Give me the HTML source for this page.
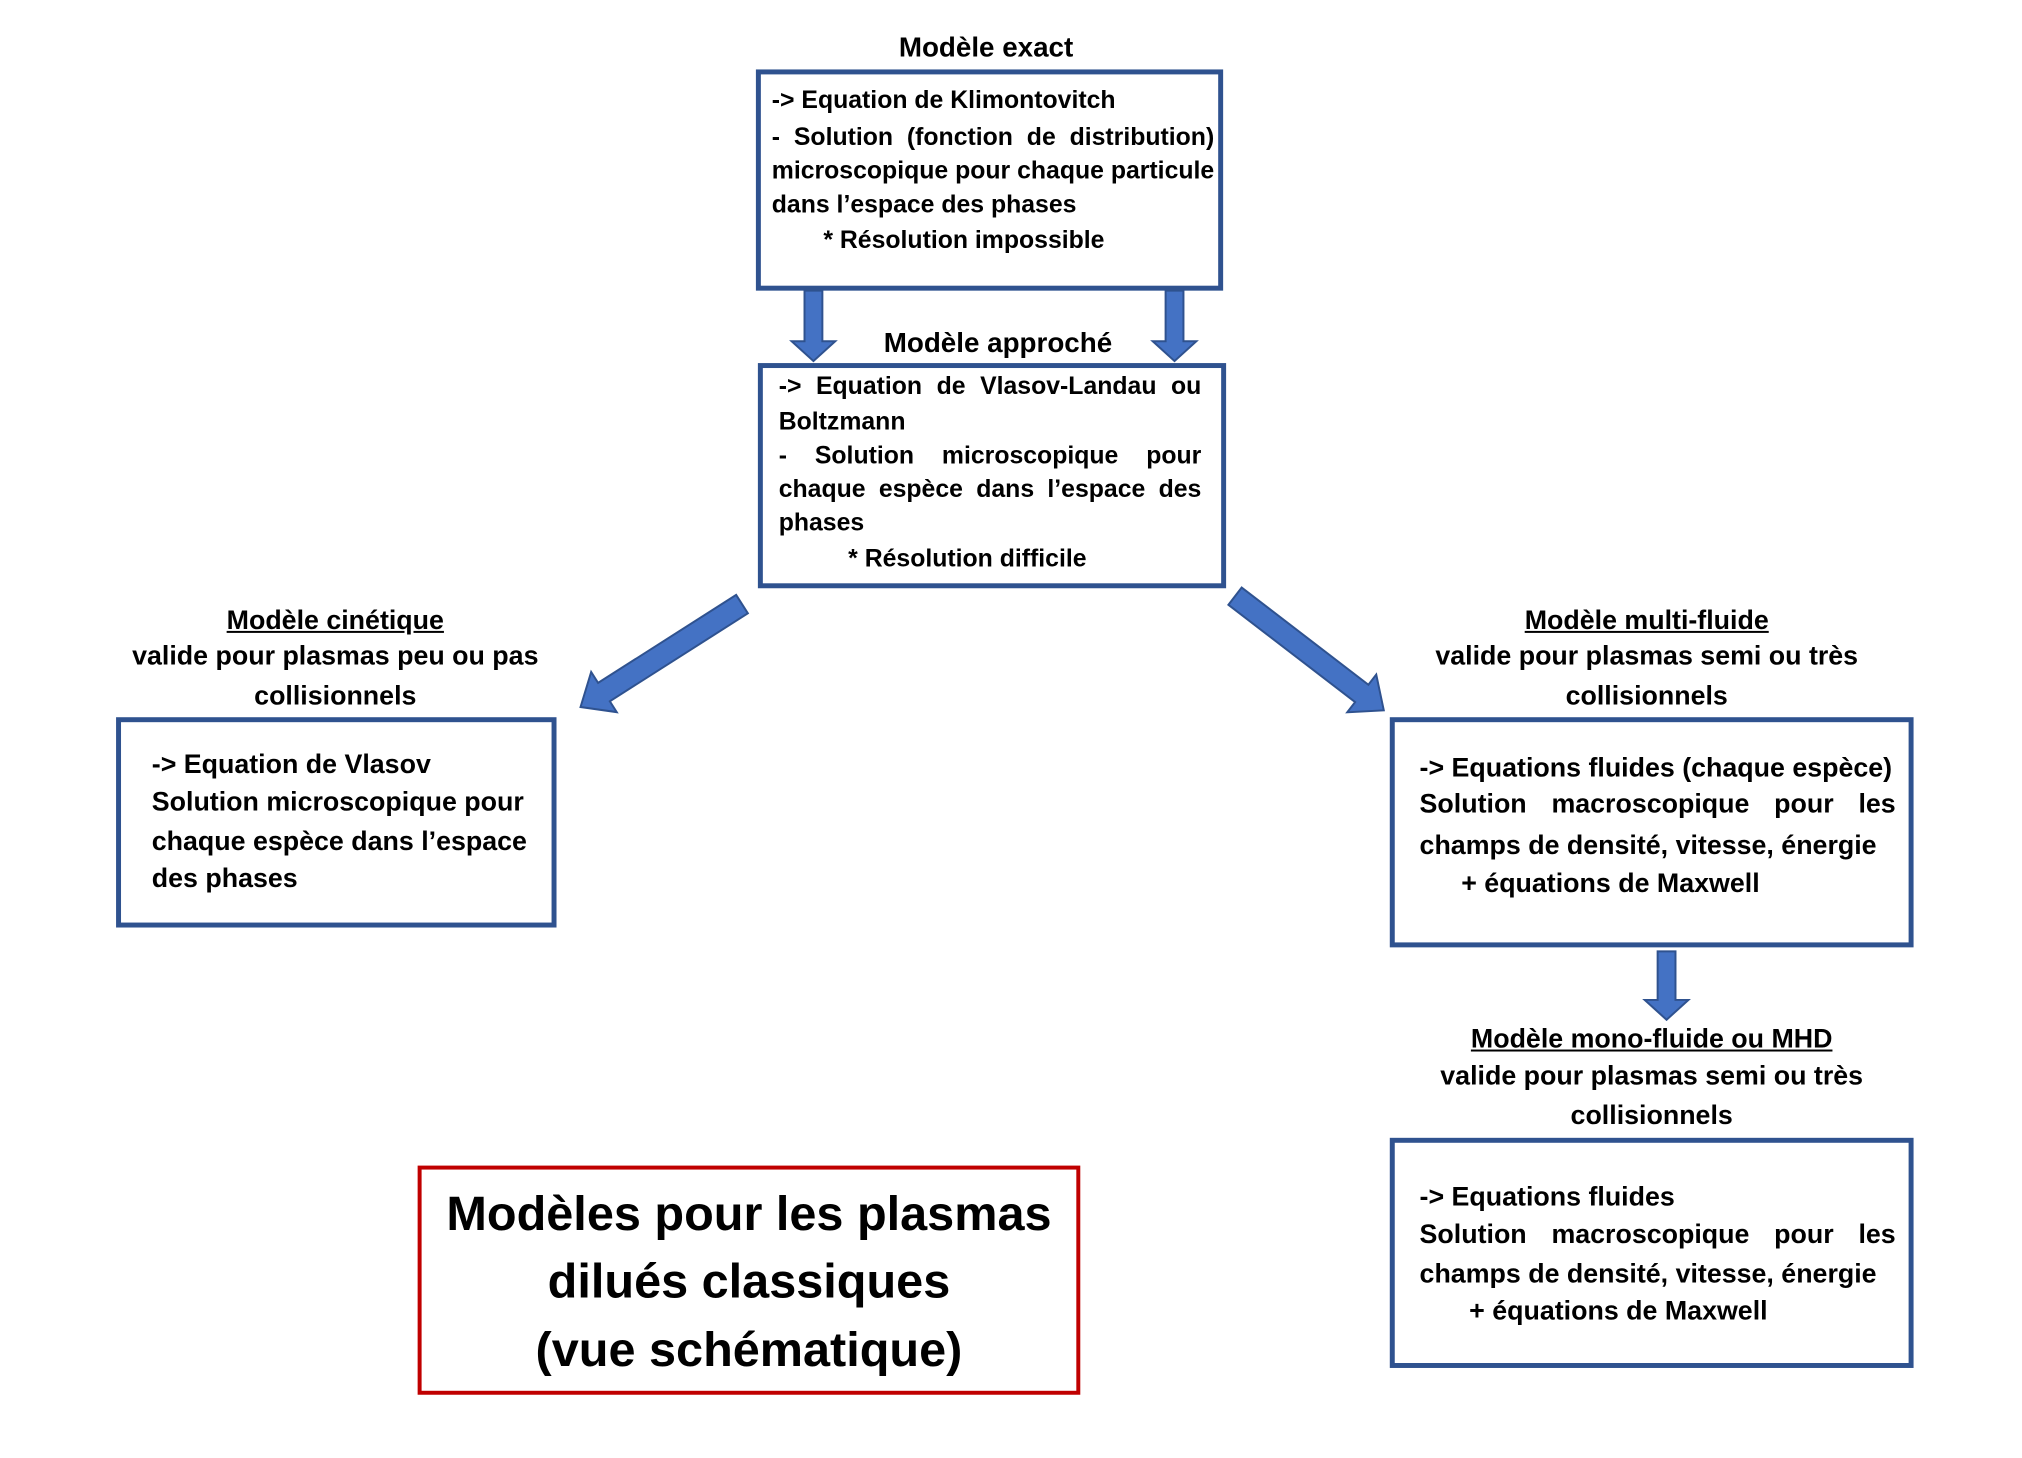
<!DOCTYPE html>
<html><head><meta charset="utf-8"><style>
body{margin:0;width:2022px;height:1454px;background:#fff;position:relative;overflow:hidden;font-family:"Liberation Sans",Arial,sans-serif;font-weight:bold;color:#000}
#w{position:absolute;left:0;top:0;width:2040px;height:1470px;transform:scale(0.992);transform-origin:0 0}
.b{position:absolute;border:5px solid #2f528f;box-sizing:border-box}
.t{position:absolute;font-size:27px;line-height:28px;white-space:nowrap}
.s{font-size:25px}
.j{text-align:justify;text-align-last:justify}
.c{text-align:center}
u{text-decoration:underline}
svg{position:absolute;left:0;top:0}
</style></head><body><div id="w">
<svg width="2040" height="1470">
<g fill="#4472c4" stroke="#2f528f" stroke-width="2">
<polygon points="811,293 829,293 829,344 842,344 820,364 798,344 811,344"/>
<polygon points="1175,293 1193,293 1193,344 1206,344 1184,364 1162,344 1175,344"/>
<polygon points="1671,959 1689,959 1689,1008 1702,1008 1680,1028 1658,1008 1671,1008"/>
<g transform="translate(748,609) rotate(147.5)"><polygon points="0,-11 165,-11 165,-24 193,0 165,24 165,11 0,11"/></g>
<g transform="translate(1245,601) rotate(37.5)"><polygon points="0,-11 161,-11 161,-24 189,0 161,24 161,11 0,11"/></g>
</g>
</svg>

<div class="t c" style="left:794px;width:400px;top:34px;font-size:28px">Modèle exact</div>
<div class="b" style="left:762px;top:70px;width:471px;height:223px"></div>
<div class="t s" style="left:778px;top:87px">-&gt; Equation de Klimontovitch</div>
<div class="t j s" style="left:778px;width:446px;top:124px">- Solution (fonction de distribution)</div>
<div class="t j s" style="left:778px;width:446px;top:158px">microscopique pour chaque particule</div>
<div class="t s" style="left:778px;top:192px">dans l’espace des phases</div>
<div class="t s" style="left:830px;top:228px">* Résolution impossible</div>

<div class="t c" style="left:806px;width:400px;top:332px;font-size:28px">Modèle approché</div>
<div class="b" style="left:764px;top:366px;width:472px;height:227px"></div>
<div class="t j s" style="left:785px;width:426px;top:375px">-&gt; Equation de Vlasov-Landau ou</div>
<div class="t s" style="left:785px;top:411px">Boltzmann</div>
<div class="t j s" style="left:785px;width:426px;top:445px">- Solution microscopique pour</div>
<div class="t j s" style="left:785px;width:426px;top:479px">chaque espèce dans l’espace des</div>
<div class="t s" style="left:785px;top:513px">phases</div>
<div class="t s" style="left:855px;top:549px">* Résolution difficile</div>

<div class="t c" style="left:88px;width:500px;top:611px"><u>Modèle cinétique</u></div>
<div class="t c" style="left:88px;width:500px;top:647px">valide pour plasmas peu ou pas</div>
<div class="t c" style="left:88px;width:500px;top:687px">collisionnels</div>
<div class="b" style="left:117px;top:723px;width:444px;height:212px"></div>
<div class="t" style="left:153px;top:756px">-&gt; Equation de Vlasov</div>
<div class="t" style="left:153px;top:794px">Solution microscopique pour</div>
<div class="t" style="left:153px;top:834px">chaque espèce dans l’espace</div>
<div class="t" style="left:153px;top:871px">des phases</div>

<div class="t c" style="left:1410px;width:500px;top:611px"><u>Modèle multi-fluide</u></div>
<div class="t c" style="left:1410px;width:500px;top:647px">valide pour plasmas semi ou très</div>
<div class="t c" style="left:1410px;width:500px;top:687px">collisionnels</div>
<div class="b" style="left:1401px;top:723px;width:528px;height:232px"></div>
<div class="t" style="left:1431px;top:760px">-&gt; Equations fluides (chaque espèce)</div>
<div class="t j" style="left:1431px;width:480px;top:796px">Solution macroscopique pour les</div>
<div class="t" style="left:1431px;top:838px">champs de densité, vitesse, énergie</div>
<div class="t" style="left:1473px;top:876px">+ équations de Maxwell</div>

<div class="t c" style="left:1415px;width:500px;top:1033px"><u>Modèle mono-fluide ou MHD</u></div>
<div class="t c" style="left:1415px;width:500px;top:1070px">valide pour plasmas semi ou très</div>
<div class="t c" style="left:1415px;width:500px;top:1110px">collisionnels</div>
<div class="b" style="left:1401px;top:1147px;width:528px;height:232px"></div>
<div class="t" style="left:1431px;top:1192px">-&gt; Equations fluides</div>
<div class="t j" style="left:1431px;width:480px;top:1230px">Solution macroscopique pour les</div>
<div class="t" style="left:1431px;top:1270px">champs de densité, vitesse, énergie</div>
<div class="t" style="left:1481px;top:1307px">+ équations de Maxwell</div>

<div class="b" style="left:421px;top:1175px;width:668px;height:231px;border:4px solid #c00000"></div>
<div class="t c" style="left:421px;width:668px;top:1196px;font-size:49px;line-height:56px">Modèles pour les plasmas</div>
<div class="t c" style="left:421px;width:668px;top:1264px;font-size:49px;line-height:56px">dilués classiques</div>
<div class="t c" style="left:421px;width:668px;top:1333px;font-size:49px;line-height:56px">(vue schématique)</div>
</div></body></html>
